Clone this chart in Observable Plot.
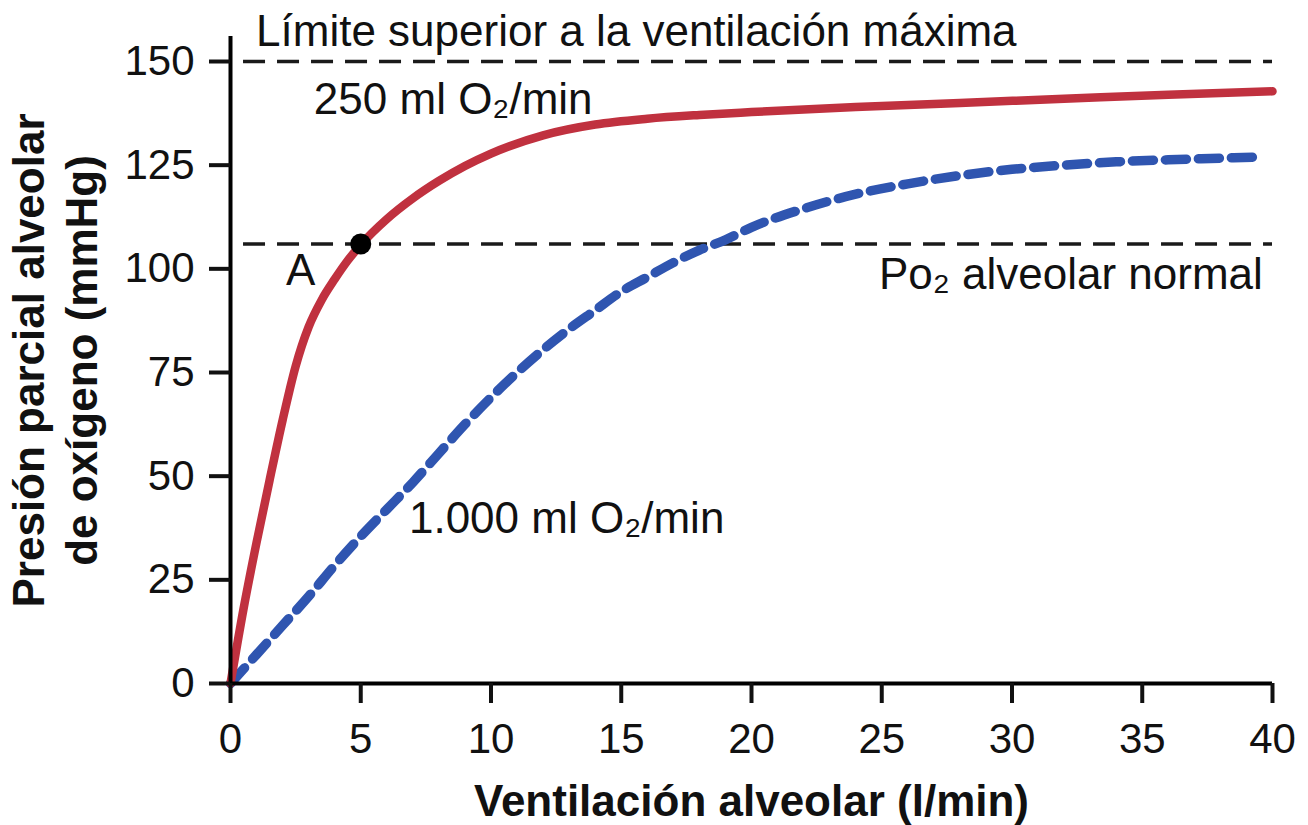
<!DOCTYPE html>
<html>
<head>
<meta charset="utf-8">
<script src="https://cdn.jsdelivr.net/npm/d3@7"></script>
<script src="https://cdn.jsdelivr.net/npm/@observablehq/plot@0.6"></script>
<style>
  html, body { margin: 0; padding: 0; background: #fff; }
  #chart { width: 1308px; height: 825px; }
</style>
</head>
<body>
<div id="chart"></div>
<script>
// --- Data -----------------------------------------------------------
// Curve: 250 ml O2/min (solid red)
const ventA = [0, 0.5, 1, 1.5, 2, 2.5, 3, 3.5, 4, 4.5, 5, 6, 7, 8, 9, 10, 12, 14, 16, 18, 20, 24, 28, 32, 36, 40];
const po2A  = [0, 18, 34, 49, 63.5, 76.5, 86, 92.5, 97.5, 102, 105.8, 112, 117, 121.2, 124.8, 127.8, 132.2, 134.8, 136.2, 137.1, 137.8, 139, 140, 141, 142, 142.8];

// Curve: 1.000 ml O2/min (dashed blue)
const ventB = [0, 1, 2, 3, 4, 5, 6, 7, 8, 9, 10, 11, 12, 13, 14, 15, 16, 17, 18, 19, 20, 22, 24, 26, 28, 30, 32, 34, 36, 38, 39.6];
const po2B  = [0, 7, 14, 21, 28.5, 35.5, 42, 48.5, 55.5, 62.5, 69, 75, 80.5, 85.5, 90, 94.5, 98, 101.5, 104.5, 107, 110, 114.5, 118, 120.5, 122.5, 124, 125, 125.8, 126.3, 126.7, 127];

// Reference lines (mmHg)
const refLines = [150, 106];
// Point A
const pointA = {x: 5, y: 106};

// Ticks
const xTicks = [0, 5, 10, 15, 20, 25, 30, 35, 40];
const yTicks = [0, 25, 50, 75, 100, 125, 150];

// Annotations
const annoStartText = ["Límite superior a la ventilación máxima", "250 ml O₂/min", "A", "1.000 ml O₂/min"];
const annoStartX = [0.98, 3.2, 2.13, 6.85];
const annoStartY = [153.8, 137.4, 96, 36.2];
const annoEndText = ["Po₂ alveolar normal"];
const annoEndX = [39.63];
const annoEndY = [95.2];

const xLabel = "Ventilación alveolar (l/min)";
const yLabel = "Presión parcial alveolar\nde oxígeno (mmHg)";

// --- Build tables ---------------------------------------------------
const serA = ventA.map((v, i) => ({x: v, y: po2A[i]}));
const serB = ventB.map((v, i) => ({x: v, y: po2B[i]}));
const annoStart = annoStartText.map((t, i) => ({t, x: annoStartX[i], y: annoStartY[i]}));
const annoEnd = annoEndText.map((t, i) => ({t, x: annoEndX[i], y: annoEndY[i]}));

const FONT = "'Liberation Sans', Arial, Helvetica, sans-serif";

const chart = Plot.plot({
  width: 1308,
  height: 825,
  marginLeft: 230,
  marginRight: 36,
  marginTop: 61,
  marginBottom: 142,
  style: {fontFamily: FONT, fontSize: "42px", color: "#111", background: "#fff"},
  x: {domain: [0, 40]},
  y: {domain: [0, 150]},
  marks: [
    // reference dashed lines
    Plot.ruleY(refLines, {x1: 0.5, x2: 40, stroke: "#1a1a1a", strokeWidth: 3.5, strokeDasharray: "22,12"}),
    // curves
    Plot.line(serB, {x: "x", y: "y", stroke: "#2f55b0", strokeWidth: 9.5, strokeDasharray: "21,12", curve: "monotone-x"}),
    Plot.line(serA, {x: "x", y: "y", stroke: "#c0313f", strokeWidth: 8.5, curve: "monotone-x"}),
    Plot.dot([pointA], {x: "x", y: "y", r: 10.5, fill: "#000", stroke: "none"}),
    // axes lines
    Plot.ruleY([0], {x1: 0, x2: 40, stroke: "#000", strokeWidth: 4}),
    Plot.ruleX([0], {y1: 0, y2: 156, stroke: "#000", strokeWidth: 4}),
    Plot.axisX({ticks: xTicks, tickSize: 20, tickPadding: 20, fontSize: 42, strokeWidth: 4, label: null}),
    Plot.axisY({ticks: yTicks, tickSize: 21, tickPadding: 15, fontSize: 42, strokeWidth: 4, label: null}),
    // axis titles
    Plot.text([xLabel], {frameAnchor: "bottom", dy: 132, textAnchor: "middle", lineAnchor: "bottom", fontSize: 44, fontWeight: "bold", fill: "#111"}),
    Plot.text([yLabel], {frameAnchor: "left", dx: -134, dy: -12, rotate: -90, textAnchor: "middle", lineAnchor: "bottom", lineHeight: 1.2, fontSize: 44, fontWeight: "bold", fill: "#111"}),
    // annotations
    Plot.text(annoStart, {x: "x", y: "y", text: "t", textAnchor: "start", lineAnchor: "bottom", fontSize: 44, fill: "#111"}),
    Plot.text(annoEnd, {x: "x", y: "y", text: "t", textAnchor: "end", lineAnchor: "bottom", fontSize: 44, fill: "#111"})
  ]
});

document.getElementById("chart").appendChild(chart);
</script>
</body>
</html>
